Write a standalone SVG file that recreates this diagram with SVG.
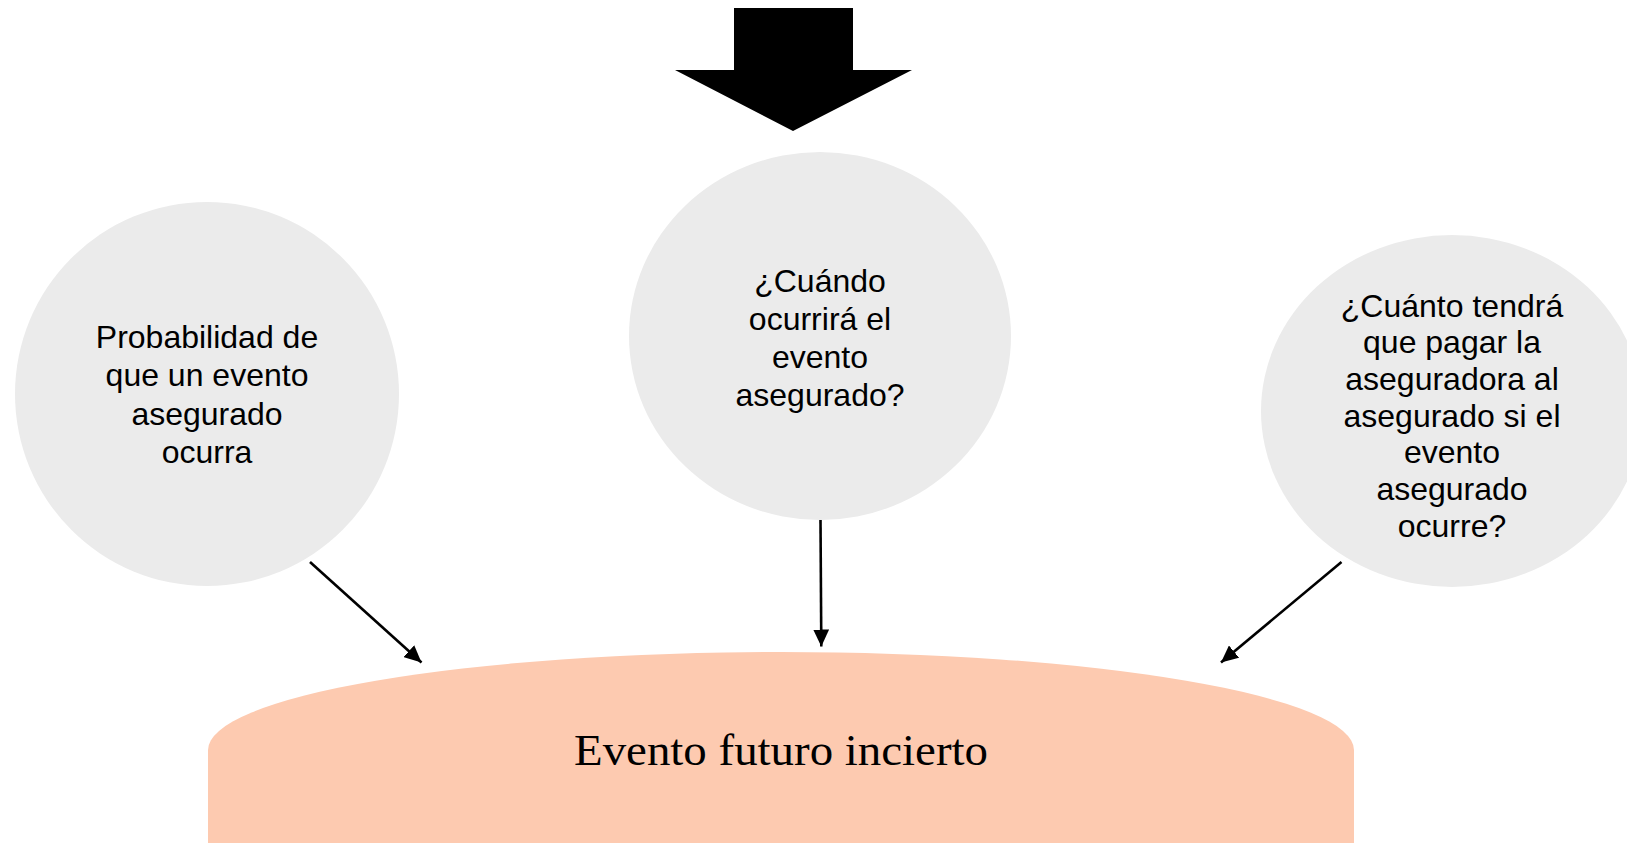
<svg xmlns="http://www.w3.org/2000/svg" width="1627" height="843" viewBox="0 0 1627 843">
<style>
.bubble{fill:#EBEBEB}
.q{font-family:"Liberation Sans",Arial,sans-serif;font-size:32px;fill:#000;text-anchor:middle}
.main{font-family:"Liberation Serif","Times New Roman",serif;font-size:44px;fill:#000;text-anchor:middle}
.conn{stroke:#000;stroke-width:2.6;fill:none;marker-end:url(#ah)}
</style>
<defs>
<marker id="ah" markerUnits="userSpaceOnUse" markerWidth="18" markerHeight="16" refX="17" refY="8" orient="auto">
<path d="M0,0 L17,8 L0,16 Z" fill="#000"/>
</marker>
</defs>
<rect width="1627" height="843" fill="#FFFFFF"/>
<g id="big-arrow">
<polygon points="734,8 853,8 853,70 912,70 793,131 675,70 734,70" fill="#000"/>
</g>
<g id="node-evento">
<path d="M208,843 L208,750 A573,98 0 0 1 1354,750 L1354,843 Z" fill="#FDCAB0"/>
<text class="main" x="781" y="765" textLength="414" lengthAdjust="spacingAndGlyphs">Evento futuro incierto</text>
</g>
<g id="node-probabilidad">
<circle class="bubble" cx="207" cy="394" r="192"/>
<text class="q" x="207" y="347.5">Probabilidad de</text>
<text class="q" x="207" y="386">que un evento</text>
<text class="q" x="207" y="424.5">asegurado</text>
<text class="q" x="207" y="463">ocurra</text>
</g>
<g id="node-cuando">
<ellipse class="bubble" cx="820" cy="336" rx="191" ry="184"/>
<text class="q" x="820" y="291.5">¿Cuándo</text>
<text class="q" x="820" y="329.5">ocurrirá el</text>
<text class="q" x="820" y="367.5">evento</text>
<text class="q" x="820" y="405.5">asegurado?</text>
</g>
<g id="node-cuanto">
<ellipse class="bubble" cx="1452" cy="411" rx="191" ry="176"/>
<text class="q" x="1452" y="316.5">¿Cuánto tendrá</text>
<text class="q" x="1452" y="353.2">que pagar la</text>
<text class="q" x="1452" y="389.9">aseguradora al</text>
<text class="q" x="1452" y="426.6">asegurado si el</text>
<text class="q" x="1452" y="463.3">evento</text>
<text class="q" x="1452" y="500">asegurado</text>
<text class="q" x="1452" y="536.7">ocurre?</text>
</g>
<g id="connectors">
<line class="conn" x1="310" y1="562" x2="421.5" y2="662.5"/>
<line class="conn" x1="820.5" y1="520" x2="821.3" y2="646.5"/>
<line class="conn" x1="1341.5" y1="562" x2="1221" y2="662.5"/>
</g>
</svg>
